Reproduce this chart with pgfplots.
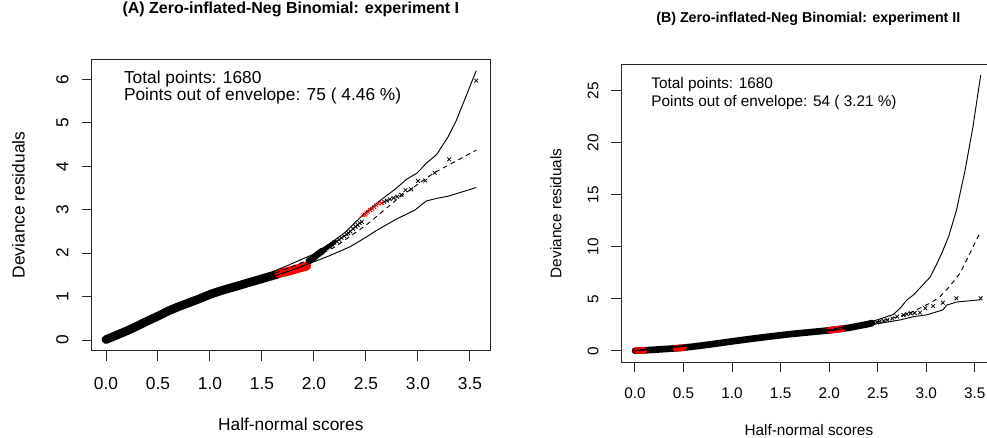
\documentclass[border=0pt]{standalone}
\usepackage{fontspec}
\setmainfont{Liberation Sans}
\usepackage{pgfplots}
\pgfplotsset{compat=1.18}

\pgfplotsset{
  hnp/.style={
    scale only axis,
    axis line style={black!85, line width=0.75pt},
    xtick={0,0.5,1,1.5,2,2.5,3,3.5},
    xticklabels={0.0,0.5,1.0,1.5,2.0,2.5,3.0,3.5},
    xtick pos=bottom, ytick pos=left,
    tick align=outside, major tick length=7.5pt,
    every tick/.style={black!85, line width=0.75pt},
    xticklabel style={anchor=base},
    yticklabel style={rotate=90, anchor=base},
    ylabel style={anchor=base, rotate=0},
    xlabel style={anchor=base},
    title style={anchor=base, font=\bfseries},
    ylabel={Deviance residuals},
    xlabel={Half-normal scores},
  },
  band/.style={line width=#1, line cap=round, line join=round},
  pts/.style={only marks, mark=x, mark size=2pt, mark options={line width=0.6pt}},
  env/.style={black, line width=0.7pt},
  med/.style={black, line width=0.7pt, dash pattern=on 3.5pt off 3pt},
}

\begin{document}
\begin{tikzpicture}
\useasboundingbox (0,0) rectangle (740.25pt,328.5pt);

% ---------------- (A) experiment I ----------------
\begin{axis}[hnp,
  at={(68.775pt,65.475pt)}, anchor=south west,
  width=298.725pt, height=218.55pt,
  xmin=-0.1375, xmax=3.6925, ymin=-0.246, ymax=6.461,
  ytick={0,1,2,3,4,5,6}, yticklabels={0,1,2,3,4,5,6},
  tick label style={font=\fontsize{13}{15}\selectfont},
  label style={font=\fontsize{13}{15}\selectfont},
  title style={font=\fontsize{12}{14}\selectfont\bfseries},
  title={(A) Zero-inflated-Neg Binomial: experiment I},
  title style={at={(axis description cs:0.5,1.129)}},
  xlabel style={at={(axis description cs:0.5,-0.274)}},
  ylabel style={at={(axis description cs:-0.1687,0.5)}},
  yticklabel shift=10pt, xticklabel shift=21.4pt,
]
% dense part of the residuals
\addplot[band=6.5pt, black] coordinates {
(0.00,0.01) (0.10,0.11) (0.20,0.21) (0.30,0.32) (0.40,0.44) (0.50,0.55)
(0.60,0.67) (0.70,0.77) (0.80,0.86) (0.90,0.95) (1.00,1.05) (1.10,1.13)
(1.20,1.20) (1.30,1.27) (1.40,1.34) (1.50,1.41) (1.60,1.48) (1.66,1.52)};
\addplot[band=6.5pt, red] coordinates {
(1.66,1.53) (1.69,1.55) (1.72,1.56) (1.75,1.58) (1.78,1.60) (1.81,1.62)
(1.84,1.64) (1.87,1.66) (1.90,1.68) (1.93,1.70)};
\addplot[band=5pt, black] coordinates {
(1.95,1.82) (1.99,1.88) (2.04,1.98) (2.08,2.05)};
\addplot[band=3pt, black] coordinates {
(2.04,1.98) (2.10,2.08) (2.15,2.16) (2.20,2.26)};
% sparse upper tail
\addplot[pts, black] coordinates {
(2.12,2.11) (2.15,2.16) (2.175,2.20) (2.195,2.24) (2.22,2.27) (2.24,2.31)
(2.265,2.35) (2.29,2.39) (2.315,2.43) (2.33,2.46) (2.35,2.50) (2.375,2.56)
(2.40,2.61) (2.42,2.65) (2.44,2.69) (2.46,2.72) (2.675,3.18) (2.70,3.21)
(2.73,3.24) (2.765,3.27) (2.80,3.30) (2.84,3.34) (2.88,3.45) (2.935,3.47)
(3.00,3.66) (3.07,3.67) (3.16,3.85) (3.30,4.16) (3.56,5.97)};
\addplot[pts, red] coordinates {
(2.475,2.87) (2.49,2.89) (2.505,2.92) (2.52,2.95) (2.54,2.99) (2.56,3.02)
(2.58,3.06) (2.60,3.10) (2.62,3.14) (2.65,3.15)};
% simulated envelope
\addplot[env] coordinates {
(0.00,0.03) (0.50,0.57) (1.00,1.08) (1.50,1.46) (1.77,1.74) (2.00,1.98)
(2.20,2.30) (2.30,2.48) (2.47,2.88) (2.63,3.20) (2.79,3.49) (2.89,3.70)
(2.99,3.84) (3.08,4.07) (3.18,4.27) (3.29,4.68) (3.37,5.06) (3.46,5.60) (3.56,6.20)};
\addplot[env] coordinates {
(0.00,0.00) (0.50,0.52) (1.00,1.02) (1.50,1.38) (1.80,1.62) (2.00,1.80)
(2.15,1.94) (2.35,2.15) (2.51,2.38) (2.60,2.52) (2.79,2.78) (2.97,2.99)
(3.08,3.20) (3.18,3.26) (3.29,3.31) (3.40,3.39) (3.56,3.51)};
\addplot[med] coordinates {
(0.00,0.01) (0.50,0.54) (1.00,1.05) (1.50,1.42) (2.00,1.89) (2.20,2.14)
(2.51,2.66) (2.83,3.30) (3.15,3.84) (3.56,4.37)};
\node[anchor=base west, font=\fontsize{13}{15}\selectfont]
  at (axis description cs:0.0693,0.9176) {Total points: 1680};
\node[anchor=base west, font=\fontsize{13}{15}\selectfont]
  at (axis description cs:0.0693,0.858) {Points out of envelope: 75 ( 4.46 \%)};
\end{axis}

% ---------------- (B) experiment II ----------------
\begin{axis}[hnp,
  at={(465.75pt,56.775pt)}, anchor=south west,
  width=279pt, height=223.5pt,
  xmin=-0.144, xmax=3.687, ymin=-1.09, ymax=27.54,
  ytick={0,5,10,15,20,25}, yticklabels={0,5,10,15,20,25},
  tick label style={font=\fontsize{11.5}{13.5}\selectfont},
  label style={font=\fontsize{11.5}{13.5}\selectfont},
  title style={font=\fontsize{10.7}{12.5}\selectfont\bfseries},
  title={(B) Zero-inflated-Neg Binomial: experiment II},
  title style={at={(axis description cs:0.5035,1.115)}},
  xlabel style={at={(axis description cs:0.505,-0.244)}},
  ylabel style={at={(axis description cs:-0.16,0.5)}},
  yticklabel shift=9.5pt, xticklabel shift=19.5pt,
]
\addplot[band=5pt, black] coordinates {
(0.00,0.02) (0.10,0.06) (0.20,0.12) (0.30,0.18) (0.40,0.24) (0.46,0.28)
(0.60,0.42) (0.80,0.66) (1.00,0.92) (1.20,1.17) (1.40,1.40) (1.60,1.62)
(1.80,1.80) (2.00,1.98) (2.20,2.22) (2.40,2.58) (2.44,2.68)};
\addplot[band=5pt, red] coordinates {(0.02,0.03) (0.09,0.04)};
\addplot[band=5pt, red] coordinates {(0.42,0.26) (0.50,0.31)};
\addplot[band=5pt, red] coordinates {(2.00,1.98) (2.08,2.07) (2.14,2.14)};
\addplot[pts, black] coordinates {
(2.16,2.18) (2.49,2.75) (2.52,2.82) (2.56,2.90) (2.60,2.98) (2.65,3.12)
(2.70,3.30) (2.765,3.45) (2.80,3.55) (2.84,3.62) (2.88,3.66) (2.935,3.68)
(2.99,4.10) (3.07,4.32) (3.17,4.64) (3.31,5.06) (3.56,5.06)};
\addplot[env] coordinates {
(0.00,0.05) (1.00,0.97) (2.00,2.05) (2.30,2.55) (2.50,3.00) (2.66,3.50)
(2.73,4.10) (2.80,4.90) (2.87,5.40) (2.95,6.20) (3.04,7.10) (3.11,8.40)
(3.16,9.40) (3.23,11.0) (3.31,13.5) (3.40,17.4) (3.48,21.5) (3.56,26.5)};
\addplot[env] coordinates {
(0.00,0.00) (1.00,0.88) (2.00,1.92) (2.30,2.35) (2.50,2.62) (2.73,2.98)
(2.87,3.30) (3.00,3.46) (3.17,3.94) (3.21,4.40) (3.31,4.70) (3.56,4.92)};
\addplot[med] coordinates {
(0.00,0.02) (1.00,0.92) (2.00,1.98) (2.50,2.80) (2.80,3.50) (3.04,4.60)
(3.14,5.20) (3.24,6.20) (3.35,7.50) (3.45,9.40) (3.56,11.5)};
\node[anchor=base west, font=\fontsize{11.5}{13.5}\selectfont]
  at (axis description cs:0.0691,0.9195) {Total points: 1680};
\node[anchor=base west, font=\fontsize{11.5}{13.5}\selectfont]
  at (axis description cs:0.0691,0.860) {Points out of envelope: 54 ( 3.21 \%)};
\end{axis}
\end{tikzpicture}
\end{document}
